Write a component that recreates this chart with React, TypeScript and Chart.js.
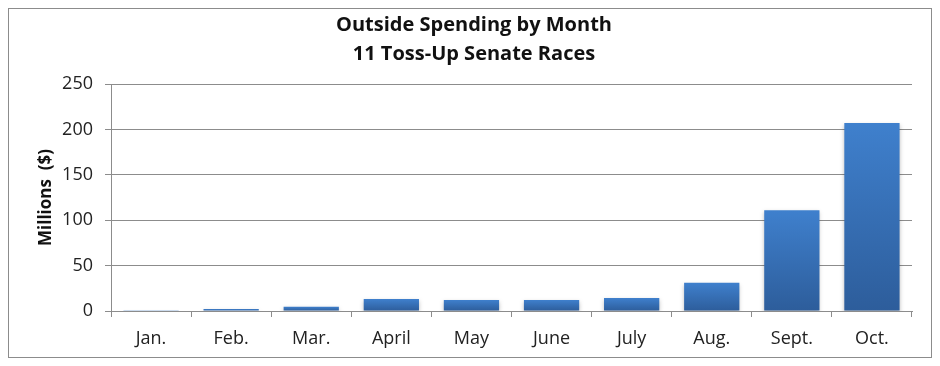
import React, { useEffect, useRef } from "react";
import { Chart, registerables } from "chart.js";

Chart.register(...registerables);

const months = ["Jan.", "Feb.", "Mar.", "April", "May", "June", "July", "Aug.", "Sept.", "Oct."];
const spending = [0.2, 2.2, 4.7, 13.2, 12.2, 12.2, 14.3, 31, 111, 207];
const yTicks = [0, 50, 100, 150, 200, 250];
const titleLines = ["Outside Spending by Month", "11 Toss-Up Senate Races"];
const yTitle = "Millions  ($)";

const FONT = "'Open Sans', 'Noto Sans', sans-serif";

const shadowPlugin = {
  id: "barShadow",
  beforeDatasetsDraw(chart: any) {
    const c = chart.ctx;
    c.save();
    c.shadowColor = "rgba(0,0,0,0.25)";
    c.shadowBlur = 4;
    c.shadowOffsetX = 0;
    c.shadowOffsetY = 2;
  },
  afterDatasetsDraw(chart: any) {
    chart.ctx.restore();
  },
};

export default function App() {
  const ref = useRef<HTMLCanvasElement | null>(null);
  useEffect(() => {
    if (!ref.current) return;
    const chart = new Chart(ref.current, {
      type: "bar",
      plugins: [shadowPlugin],
      data: {
        labels: months,
        datasets: [
          {
            data: spending,
            backgroundColor: (ctx: any) => {
              const c = ctx.chart;
              const area = c.chartArea;
              if (!area || ctx.type !== "data") return "#3a73bd";
              const ys = c.scales.y;
              const top = ys.getPixelForValue(ctx.parsed.y);
              const bottom = ys.getPixelForValue(0);
              if (bottom - top < 1) return "#3a73bd";
              const g = c.ctx.createLinearGradient(0, top, 0, bottom);
              g.addColorStop(0, "#3f80cd");
              g.addColorStop(1, "#2d5d9b");
              return g;
            },
            borderWidth: 0,
            barPercentage: 0.69,
            categoryPercentage: 1,
          },
        ],
      },
      options: {
        animation: false,
        responsive: true,
        maintainAspectRatio: false,
        layout: { padding: { left: 27, right: 19, top: 2, bottom: 8 } },
        plugins: {
          legend: { display: false },
          tooltip: { enabled: false },
          title: {
            display: true,
            text: titleLines,
            color: "#111",
            font: { family: FONT, size: 20, weight: "bold", lineHeight: 1.45 },
            padding: { top: 0, bottom: 15 },
          },
        },
        scales: {
          x: {
            grid: { display: true, drawOnChartArea: false, drawTicks: true, tickLength: 6, color: "#8c8c8c", offset: true },
            border: { color: "#8c8c8c" },
            ticks: { color: "#222", font: { family: FONT, size: 18 }, padding: 11 },
            afterFit: (s: any) => { s.height = 38; },
          },
          y: {
            min: 0,
            max: 250,
            afterBuildTicks: (s: any) => { s.ticks = yTicks.map((v) => ({ value: v })); },
            grid: { color: "#8c8c8c", tickLength: 6 },
            border: { color: "#8c8c8c" },
            ticks: { color: "#222", font: { family: FONT, size: 18 }, padding: 12 },
            title: {
              display: true,
              text: yTitle,
              color: "#111",
              font: { family: FONT, size: 17, weight: "bold" },
              padding: 0,
            },
            afterFit: (s: any) => { s.width = 75; },
          },
        },
      },
    });
    return () => chart.destroy();
  }, []);
  return (
    <div style={{ width: 922, height: 348, border: "1px solid #8c8c8c", background: "#fff" }}>
      <canvas ref={ref} />
    </div>
  );
}
